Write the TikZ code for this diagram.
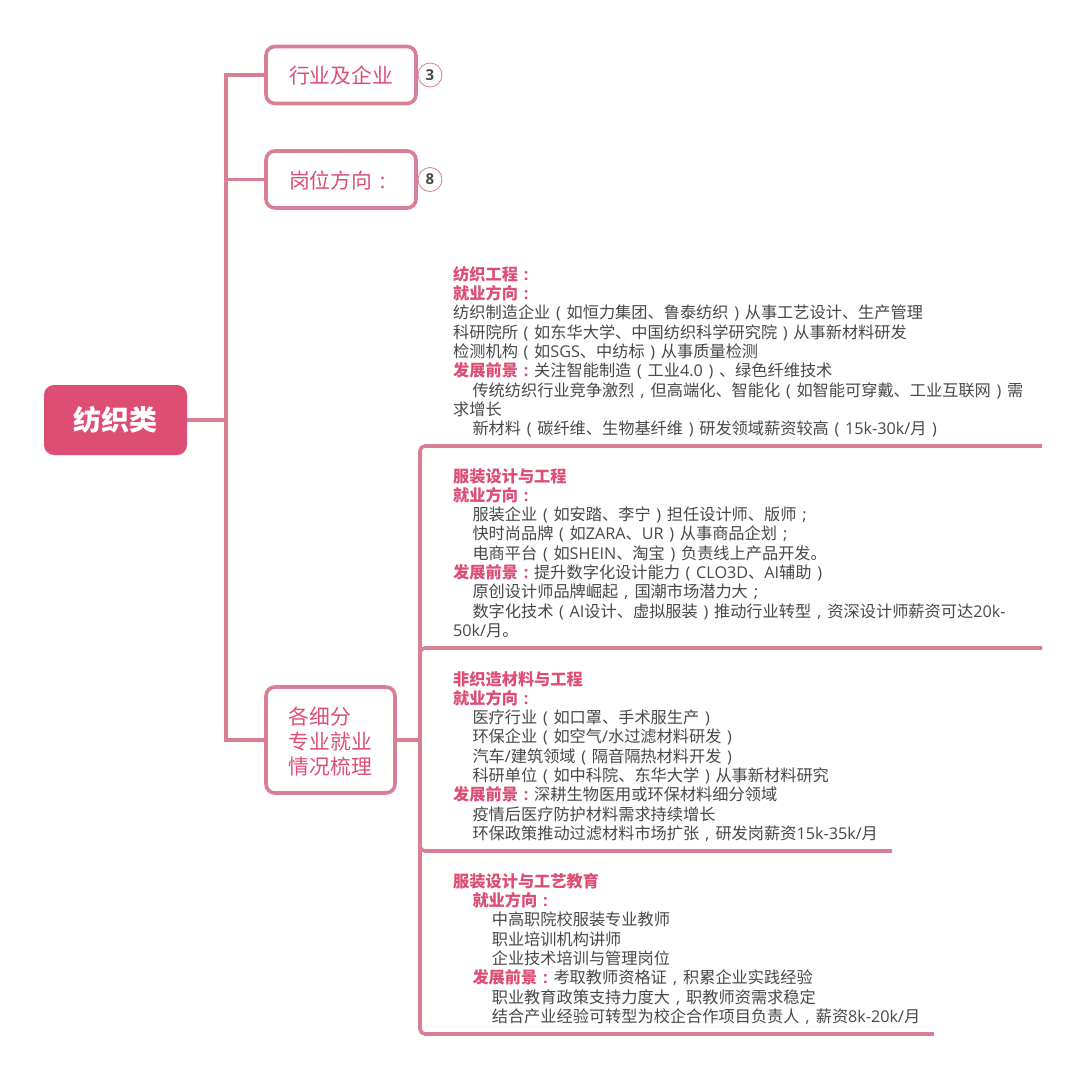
\documentclass[tikz,border=0pt]{standalone}
\usepackage{fontspec}
\setmainfont{Noto Sans CJK SC}
\newfontfamily\latf{Open Sans}
\newcommand{\lat}[1]{{\latf #1}}
\catcode`（=\active \def（{\makebox[1em][c]{\lat{(}}}
\catcode`）=\active \def）{\makebox[1em][c]{\lat{)}}}
\catcode`，=\active \def，{\makebox[1em][c]{\lat{,}}}
\catcode`：=\active \def：{\makebox[1em][c]{\lat{:}}}
\catcode`；=\active \def；{\makebox[1em][c]{\lat{;}}}
\definecolor{linepink}{HTML}{D87F95}
\definecolor{headpink}{HTML}{DE4E74}
\definecolor{bodygray}{HTML}{484848}
\newcommand{\hd}[1]{{\bfseries\color{headpink}#1}}
\newcommand{\ind}{\hspace*{19.3pt}}
\tikzset{
  link/.style={draw=linepink,line width=3.6pt},
  topicbox/.style={draw=linepink,line width=3.6pt,fill=white,rounded corners=9pt,inner sep=0pt,text=headpink,font=\fontsize{20.8}{25}\selectfont},
  rootbox/.style={fill=headpink,rounded corners=10pt,inner sep=0pt,text=white,font=\bfseries\fontsize{28}{32}\selectfont},
  countdot/.style={circle,draw=linepink,line width=0.8pt,fill=white,minimum size=24pt,inner sep=0pt,text=bodygray,font=\latf\bfseries\fontsize{15}{17}\selectfont},
  bodytext/.style={anchor=north west,inner sep=0pt,align=left,text=bodygray,font=\fontsize{16.2}{19.3}\selectfont,text width=590pt},
}
\begin{document}
\begin{tikzpicture}[x=1pt,y=-1pt]
\useasboundingbox[fill=white] (0,0) rectangle (1089,1080);
\node[rootbox,minimum width=143pt,minimum height=70pt] (root) at (115.5,420) {纺织类};
\node[topicbox,minimum width=150pt,minimum height=57pt,text height=17pt,text depth=0pt] (ind) at (341,75) {行业及企业};
\node[topicbox,minimum width=150pt,minimum height=57pt,text height=17pt,text depth=0pt] (job) at (341,179.5) {岗位方向：};
\node[topicbox,minimum width=129pt,minimum height=106pt,align=left] (sub) at (330.5,740) {\rule{0pt}{20pt}各细分\\专业就业\\情况梳理};
\node[countdot] (c3) at (430,75) {3};
\node[countdot] (c8) at (430,179.5) {8};
\coordinate (trunk) at (226,420);
\coordinate (spine) at (420,740);
\coordinate (e1) at (1042,446);
\coordinate (e2) at (1042,648);
\coordinate (e3) at (892,851);
\coordinate (e4) at (934,1034);
\draw[link] (root.east) -- (trunk);
\draw[link] (trunk) |- (ind.west);
\draw[link] (trunk) |- (job.west);
\draw[link] (trunk) |- (sub.west);
\draw[link] (sub.east) -- (spine);
\draw[link,rounded corners=5pt] (spine) |- (e1);
\draw[link,rounded corners=5pt] (spine) |- (e2);
\draw[link,rounded corners=5pt] (spine) |- (e3);
\draw[link,rounded corners=5pt] (spine) |- (e4);
\node[bodytext] (t1) at (453,266) {\hd{纺织工程：}\\
\hd{就业方向：}\\
纺织制造企业（如恒力集团、鲁泰纺织）从事工艺设计、生产管理\\
科研院所（如东华大学、中国纺织科学研究院）从事新材料研发\\
检测机构（如\lat{SGS}、中纺标）从事质量检测\\
\hd{发展前景：}关注智能制造（工业\lat{4.0}）、绿色纤维技术\\
\ind 传统纺织行业竞争激烈，但高端化、智能化（如智能可穿戴、工业互联网）需\\
求增长\\
\ind 新材料（碳纤维、生物基纤维）研发领域薪资较高（\lat{15k-30k/}月）};
\node[bodytext] (t2) at (453,468) {\hd{服装设计与工程}\\
\hd{就业方向：}\\
\ind 服装企业（如安踏、李宁）担任设计师、版师；\\
\ind 快时尚品牌（如\lat{ZARA}、\lat{UR}）从事商品企划；\\
\ind 电商平台（如\lat{SHEIN}、淘宝）负责线上产品开发。\\
\hd{发展前景：}提升数字化设计能力（\lat{CLO3D}、\lat{AI}辅助）\\
\ind 原创设计师品牌崛起，国潮市场潜力大；\\
\ind 数字化技术（\lat{AI}设计、虚拟服装）推动行业转型，资深设计师薪资可达\lat{20k-}\\
\lat{50k/}月。};
\node[bodytext] (t3) at (453,671) {\hd{非织造材料与工程}\\
\hd{就业方向：}\\
\ind 医疗行业（如口罩、手术服生产）\\
\ind 环保企业（如空气\lat{/}水过滤材料研发）\\
\ind 汽车\lat{/}建筑领域（隔音隔热材料开发）\\
\ind 科研单位（如中科院、东华大学）从事新材料研究\\
\hd{发展前景：}深耕生物医用或环保材料细分领域\\
\ind 疫情后医疗防护材料需求持续增长\\
\ind 环保政策推动过滤材料市场扩张，研发岗薪资\lat{15k-35k/}月};
\node[bodytext] (t4) at (453,873) {\hd{服装设计与工艺教育}\\
\ind\hd{就业方向：}\\
\ind\ind 中高职院校服装专业教师\\
\ind\ind 职业培训机构讲师\\
\ind\ind 企业技术培训与管理岗位\\
\ind\hd{发展前景：}考取教师资格证，积累企业实践经验\\
\ind\ind 职业教育政策支持力度大，职教师资需求稳定\\
\ind\ind 结合产业经验可转型为校企合作项目负责人，薪资\lat{8k-20k/}月};
\end{tikzpicture}
\end{document}
